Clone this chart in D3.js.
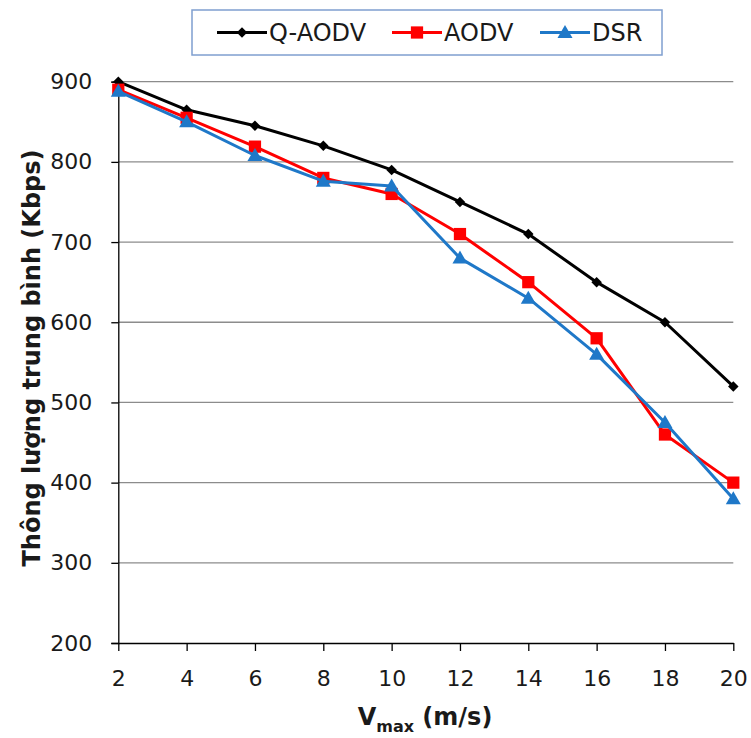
<!DOCTYPE html>
<html>
<head>
<meta charset="utf-8">
<script src="https://cdn.jsdelivr.net/npm/d3@7"></script>
<style>
  html, body { margin: 0; padding: 0; background: #fff; }
  svg { display: block; font-family: "DejaVu Sans", Verdana, sans-serif; }
</style>
</head>
<body>
<svg id="chart" width="751" height="738"></svg>
<script>
// Speed values on the x axis (m/s)
const speeds = [2, 4, 6, 8, 10, 12, 14, 16, 18, 20];
// Average throughput (Kbps) per protocol
const qaodv = [900, 865, 845, 820, 790, 750, 710, 650, 600, 520];
const aodv  = [890, 855, 819, 780, 760, 710, 650, 580, 460, 400];
const dsr   = [888, 850, 808, 776, 770, 680, 630, 560, 475, 380];
const yTicks = [200, 300, 400, 500, 600, 700, 800, 900];

const seriesList = [
  { name: "Q-AODV", values: qaodv, color: "#000000", marker: "diamond" },
  { name: "AODV",   values: aodv,  color: "#ff0000", marker: "square" },
  { name: "DSR",    values: dsr,   color: "#1f78c8", marker: "triangle" }
];

const svg = d3.select("#chart");
const plotLeft = 118.3, plotRight = 733.3, plotTop = 81.7, plotBottom = 643;

const x = d3.scaleLinear().domain([2, 20]).range([plotLeft, plotRight]);
const y = d3.scaleLinear().domain([200, 900]).range([plotBottom, plotTop]);

// Horizontal gridlines
svg.append("g")
  .selectAll("line")
  .data(yTicks.filter(d => d > 200))
  .join("line")
  .attr("x1", plotLeft).attr("x2", plotRight)
  .attr("y1", d => y(d)).attr("y2", d => y(d))
  .attr("stroke", "#8c8c8c").attr("stroke-width", 1.3);

// Y axis
const yAxis = svg.append("g")
  .attr("transform", `translate(${plotLeft},0)`)
  .call(d3.axisLeft(y).tickValues(yTicks).tickSize(7).tickPadding(19).tickFormat(d3.format("d")));
yAxis.select(".domain").attr("stroke", "#000").attr("stroke-width", 1.3);
yAxis.selectAll(".tick line").attr("stroke", "#000").attr("stroke-width", 1.3);
yAxis.selectAll("text").attr("font-size", 22).attr("fill", "#1a1a1a")
  .attr("font-family", "DejaVu Sans, Verdana, sans-serif");

// X axis
const xAxis = svg.append("g")
  .attr("transform", `translate(0,${plotBottom})`)
  .call(d3.axisBottom(x).tickValues(speeds).tickSize(8).tickPadding(19).tickSizeOuter(0));
xAxis.select(".domain").attr("stroke", "#000").attr("stroke-width", 1.3);
xAxis.selectAll(".tick line").attr("stroke", "#000").attr("stroke-width", 1.3);
xAxis.selectAll("text").attr("font-size", 22).attr("fill", "#1a1a1a")
  .attr("font-family", "DejaVu Sans, Verdana, sans-serif");

// Marker shapes
function markerPath(type) {
  if (type === "diamond") return d3.symbol().type(d3.symbolDiamond2).size(70)();
  if (type === "square") return d3.symbol().type(d3.symbolSquare).size(150)();
  return "M0,-7.5L7.5,5.5L-7.5,5.5Z";
}

const line = d3.line().x((d, i) => x(speeds[i])).y(d => y(d));

seriesList.forEach(s => {
  const g = svg.append("g");
  g.append("path")
    .datum(s.values)
    .attr("d", line)
    .attr("fill", "none")
    .attr("stroke", s.color)
    .attr("stroke-width", 3)
    .attr("stroke-linejoin", "round");
  g.selectAll("path.m")
    .data(s.values)
    .join("path")
    .attr("class", "m")
    .attr("d", markerPath(s.marker))
    .attr("transform", (d, i) => `translate(${x(speeds[i])},${y(d)})`)
    .attr("fill", s.color);
});

// Legend
const legend = svg.append("g");
legend.append("rect")
  .attr("x", 192).attr("y", 10).attr("width", 470).attr("height", 45)
  .attr("fill", "#fff").attr("stroke", "#7f9fcf").attr("stroke-width", 1.5);
const legendPos = [217, 392, 540];
seriesList.forEach((s, i) => {
  const lx = legendPos[i], ly = 32.5;
  legend.append("line")
    .attr("x1", lx).attr("x2", lx + 50).attr("y1", ly).attr("y2", ly)
    .attr("stroke", s.color).attr("stroke-width", 3);
  legend.append("path")
    .attr("d", markerPath(s.marker))
    .attr("transform", `translate(${lx + 25},${ly})`)
    .attr("fill", s.color);
  legend.append("text")
    .attr("x", lx + 52).attr("y", ly + 8.5)
    .attr("font-size", 24).attr("fill", "#1a1a1a")
    .text(s.name);
});

// Axis titles
svg.append("text")
  .attr("transform", `translate(40,358) rotate(-90)`)
  .attr("text-anchor", "middle")
  .attr("font-size", 24).attr("font-weight", "bold").attr("fill", "#1a1a1a")
  .text("Thông lượng trung bình (Kbps)");

const xt = svg.append("text")
  .attr("x", 425).attr("y", 725)
  .attr("text-anchor", "middle")
  .attr("font-size", 24).attr("font-weight", "bold").attr("fill", "#1a1a1a");
xt.append("tspan").text("V");
xt.append("tspan").attr("font-size", 16).attr("dy", 7).text("max");
xt.append("tspan").attr("dy", -7).text(" (m/s)");
</script>
</body>
</html>
